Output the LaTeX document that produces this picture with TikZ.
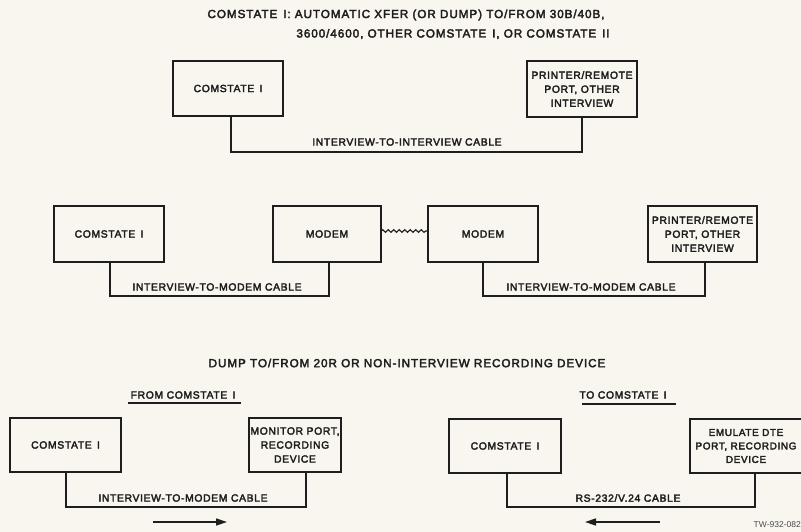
\documentclass[tikz,border=0pt]{standalone}
\usepackage{fontspec}
\setmainfont{Liberation Sans}[LetterSpace=6,FakeBold=3]
\newfontfamily\ttlfont{Liberation Sans}[LetterSpace=8,FakeBold=3]
\newfontfamily\tagfont{Liberation Sans}
\usetikzlibrary{arrows.meta,decorations.pathmorphing}
\definecolor{paper}{RGB}{248,246,239}
\definecolor{ink}{RGB}{30,30,30}
\begin{document}
\begin{tikzpicture}[x=1pt,y=-1pt,
  every node/.style={text=ink},
  box/.style={draw=ink,line width=1.4pt,fill=paper,inner sep=0pt,outer sep=0pt,align=center,font=\fontsize{10.4}{14}\selectfont},
  lbl/.style={inner sep=0pt,font=\fontsize{10.4}{12}\selectfont},
  ttl/.style={inner sep=0pt,font=\ttlfont\fontsize{11.7}{13}\selectfont},
  cable/.style={draw=ink,line width=2pt},
  uline/.style={draw=ink,line width=1.3pt},
  flow/.style={draw=ink,line width=1.6pt,-{Triangle[length=11pt,width=7pt]}},
  wavy/.style={draw=ink,line width=1.2pt,decorate,decoration={snake,amplitude=1.3pt,segment length=5.5pt}}
]
\fill[paper] (0,0) rectangle (801,532);
\useasboundingbox (0,0) rectangle (801,532);

% titles
\node[ttl] (t1) at (406,15) {COMSTATE\enspace I: AUTOMATIC XFER (OR DUMP) TO/FROM 30B/40B,};
\node[ttl] (t2) at (453,34) {3600/4600, OTHER COMSTATE\enspace I, OR COMSTATE\enspace II};

% row 1
\node[box,minimum width=110pt,minimum height=55pt] (a1) at (228,88.5) {COMSTATE\enspace I};
\node[box,minimum width=110pt,minimum height=56pt] (b1) at (582,89) {PRINTER/REMOTE\\PORT, OTHER\\INTERVIEW};
\draw[cable] ([xshift=3pt]a1.south) -- ++(0,36) -| (b1.south);
\node[lbl] (c1) at (407,142) {INTERVIEW-TO-INTERVIEW CABLE};

% row 2
\node[box,minimum width=110pt,minimum height=56pt] (a2) at (109,234) {COMSTATE\enspace I};
\node[box,minimum width=108pt,minimum height=56pt] (m1) at (327,234) {MODEM};
\node[box,minimum width=110pt,minimum height=56pt] (m2) at (483,234) {MODEM};
\node[box,minimum width=109pt,minimum height=56pt] (b2) at (702.5,234) {PRINTER/REMOTE\\PORT, OTHER\\INTERVIEW};
\draw[wavy] ([yshift=3pt]m1.east) -- ([yshift=3pt]m2.west);
\draw[cable] ([xshift=1pt]a2.south) -- ++(0,34) -| ([xshift=2pt]m1.south);
\draw[cable] (m2.south) -- ++(0,34) -| ([xshift=2.5pt]b2.south);
\node[lbl] (c2) at (217,287) {INTERVIEW-TO-MODEM CABLE};
\node[lbl] (c3) at (591,287) {INTERVIEW-TO-MODEM CABLE};

% row 3
\node[ttl] (t3) at (407,363) {DUMP TO/FROM 20R OR NON-INTERVIEW RECORDING DEVICE};
\node[lbl] (h1) at (183,395) {FROM COMSTATE\enspace I};
\node[lbl] (h2) at (623,395) {TO COMSTATE\enspace I};
\coordinate (u1a) at (128,403);
\coordinate (u1b) at (241,403);
\coordinate (u2a) at (582,404);
\coordinate (u2b) at (676,404);
\draw[uline] (u1a) -- (u1b);
\draw[uline] (u2a) -- (u2b);

\node[box,minimum width=111pt,minimum height=54pt] (a3) at (65.5,445) {COMSTATE\enspace I};
\node[box,minimum width=92pt,minimum height=54pt] (b3) at (295,445) {MONITOR PORT,\\RECORDING\\DEVICE};
\draw[cable] ([xshift=0.5pt]a3.south) -- ++(0,35) -| ([xshift=11pt]b3.south);
\node[lbl] (c4) at (183,498) {INTERVIEW-TO-MODEM CABLE};
\coordinate (f1a) at (153,522);
\coordinate (f1b) at (227,522);
\draw[flow] (f1a) -- (f1b);

\node[box,minimum width=112pt,minimum height=54pt] (a4) at (505,446) {COMSTATE\enspace I};
\node[box,minimum width=112pt,minimum height=54pt,font=\fontsize{10}{13.5}\selectfont] (b4) at (746,446) {EMULATE DTE\\PORT, RECORDING\\DEVICE};
\draw[cable] ([xshift=2pt]a4.south) -- ++(0,34) -| ([xshift=9pt]b4.south);
\node[lbl] (c5) at (628,498) {RS-232/V.24 CABLE};
\coordinate (f2a) at (660,522);
\coordinate (f2b) at (585,522);
\draw[flow] (f2a) -- (f2b);

\node[inner sep=0pt,anchor=east,font=\tagfont\fontsize{8.5}{10}\selectfont,text=ink!80] (tw) at (801,525) {TW-932-082};
\end{tikzpicture}
\end{document}
